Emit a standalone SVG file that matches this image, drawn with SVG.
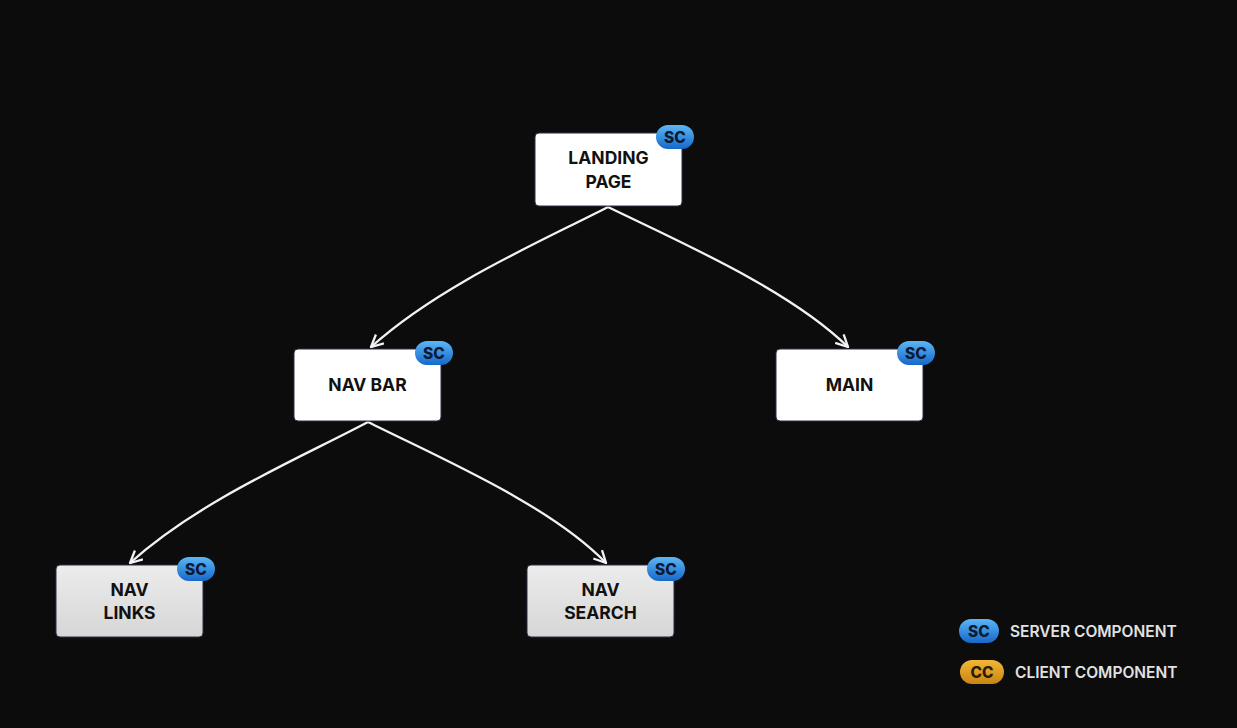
<svg xmlns="http://www.w3.org/2000/svg" width="1237" height="728" viewBox="0 0 1237 728">
<style>
.box{stroke:#2a2f45;stroke-width:1}
.lbl{font-family:Inter,"Noto Sans",sans-serif;font-weight:700;font-size:17.5px;fill:#111;text-anchor:middle}
.bt{font-family:Inter,"Noto Sans",sans-serif;font-weight:800;font-size:15.5px;fill:#0b1a33;text-anchor:middle}
.lg{font-family:Inter,"Noto Sans",sans-serif;font-weight:600;font-size:15.5px;fill:#e2e2e2}
.edge{fill:none;stroke:#f2f2f2;stroke-width:2.3}
</style>
<defs>
<linearGradient id="blue" x1="0" y1="0" x2="0" y2="1"><stop offset="0" stop-color="#5cb6f5"/><stop offset="1" stop-color="#1668c9"/></linearGradient>
<linearGradient id="orange" x1="0" y1="0" x2="0" y2="1"><stop offset="0" stop-color="#f2b836"/><stop offset="1" stop-color="#c98412"/></linearGradient>
<linearGradient id="gray" x1="0" y1="0" x2="0" y2="1"><stop offset="0" stop-color="#ececec"/><stop offset="1" stop-color="#d6d6d6"/></linearGradient>
<marker id="arr" viewBox="0 0 14 14" refX="13" refY="7" markerWidth="14" markerHeight="14" markerUnits="userSpaceOnUse" orient="auto">
<path d="M1,1 L13,7 L1,13" fill="none" stroke="#f2f2f2" stroke-width="2.3"/>
</marker>
</defs>
<rect width="1237" height="728" fill="#0c0c0c"/>
<g id="connectors">
<path class="edge" d="M608,207 C540,242 440,285 371,347" marker-end="url(#arr)"/>
<path class="edge" d="M608,207 C680,242 790,290 848,347" marker-end="url(#arr)"/>
<path class="edge" d="M368,422 C300,458 200,500 130,563" marker-end="url(#arr)"/>
<path class="edge" d="M368,422 C440,458 550,505 606,563" marker-end="url(#arr)"/>
</g>
<g id="landing-page">
<rect class="box" x="535" y="133" width="147" height="73" rx="4" fill="#ffffff"/>
<text class="lbl" x="608.5" y="164">LANDING</text>
<text class="lbl" x="608.5" y="188">PAGE</text>
<rect x="656" y="125" width="38" height="24" rx="12" fill="url(#blue)"/>
<text class="bt" x="675" y="142.5">SC</text>
</g>
<g id="nav-bar">
<rect class="box" x="294" y="349" width="147" height="72" rx="4" fill="#ffffff"/>
<text class="lbl" x="367.5" y="391">NAV BAR</text>
<rect x="415" y="341" width="38" height="24" rx="12" fill="url(#blue)"/>
<text class="bt" x="434" y="358.5">SC</text>
</g>
<g id="main">
<rect class="box" x="776" y="349" width="147" height="72" rx="4" fill="#ffffff"/>
<text class="lbl" x="849.5" y="391">MAIN</text>
<rect x="897" y="341" width="38" height="24" rx="12" fill="url(#blue)"/>
<text class="bt" x="916" y="358.5">SC</text>
</g>
<g id="nav-links">
<rect class="box" x="56" y="565" width="147" height="72" rx="4" fill="url(#gray)"/>
<text class="lbl" x="129.5" y="596">NAV</text>
<text class="lbl" x="129.5" y="619">LINKS</text>
<rect x="177" y="557" width="38" height="24" rx="12" fill="url(#blue)"/>
<text class="bt" x="196" y="574.5">SC</text>
</g>
<g id="nav-search">
<rect class="box" x="527" y="565" width="147" height="72" rx="4" fill="url(#gray)"/>
<text class="lbl" x="600.5" y="596">NAV</text>
<text class="lbl" x="600.5" y="619">SEARCH</text>
<rect x="647" y="557" width="38" height="24" rx="12" fill="url(#blue)"/>
<text class="bt" x="666" y="574.5">SC</text>
</g>
<g id="legend">
<rect x="959" y="619" width="40" height="24" rx="12" fill="url(#blue)"/>
<text class="bt" x="979" y="636.5">SC</text>
<text class="lg" x="1010" y="637">SERVER COMPONENT</text>
<rect x="960" y="660" width="44" height="24" rx="12" fill="url(#orange)"/>
<text class="bt" x="982" y="677.5" style="fill:#2a1a00">CC</text>
<text class="lg" x="1015" y="678">CLIENT COMPONENT</text>
</g>
</svg>
